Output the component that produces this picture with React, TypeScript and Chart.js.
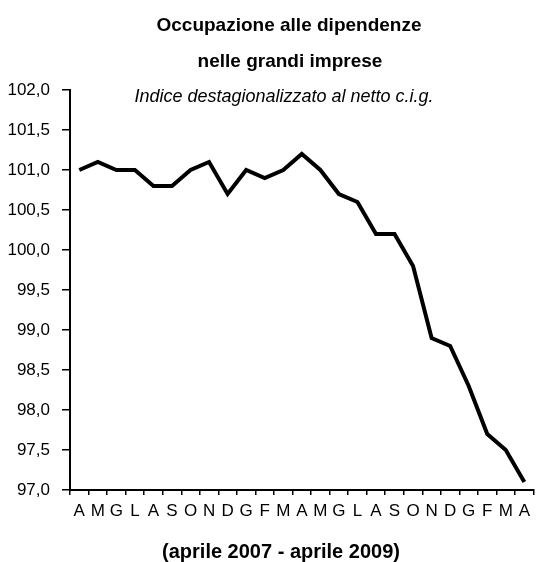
import React, { useEffect, useRef } from "react";
import { Chart, registerables } from "chart.js";

Chart.register(...registerables);

const FONT = "'Liberation Sans', Arial, sans-serif";

const categories = ["A", "M", "G", "L", "A", "S", "O", "N", "D", "G", "F", "M", "A", "M", "G", "L", "A", "S", "O", "N", "D", "G", "F", "M", "A"];
const values = [101.0, 101.1, 101.0, 101.0, 100.8, 100.8, 101.0, 101.1, 100.7, 101.0, 100.9, 101.0, 101.2, 101.0, 100.7, 100.6, 100.2, 100.2, 99.8, 98.9, 98.8, 98.3, 97.7, 97.5, 97.1];
const yMin = 97;
const yMax = 102;
const yStep = 0.5;

const titleLine1 = "Occupazione alle dipendenze";
const titleLine2 = "nelle grandi imprese";
const subtitle = "Indice destagionalizzato al netto c.i.g.";
const bottomLabel = "(aprile 2007 - aprile 2009)";

const textPlugin = {
  id: "texts",
  afterDraw(chart: any) {
    const ctx = chart.ctx;
    ctx.save();
    ctx.fillStyle = "#000";
    ctx.textAlign = "center";
    ctx.textBaseline = "middle";
    ctx.font = `bold 19px ${FONT}`;
    ctx.fillText(titleLine1, 289, 26);
    ctx.fillText(titleLine2, 290, 62);
    ctx.font = `italic 18px ${FONT}`;
    ctx.fillText(subtitle, 284, 97);
    ctx.font = `bold 20px ${FONT}`;
    ctx.fillText(bottomLabel, 281, 552);
    ctx.restore();
  },
};

export default function App() {
  const ref = useRef<HTMLCanvasElement | null>(null);

  useEffect(() => {
    if (!ref.current) return;
    const chart = new Chart(ref.current, {
      type: "line",
      data: {
        labels: categories,
        datasets: [
          {
            data: values,
            borderColor: "#000",
            borderWidth: 4,
            pointRadius: 0,
            tension: 0,
            fill: false,
          },
        ],
      },
      options: {
        responsive: false,
        animation: false,
        layout: { padding: { top: 90, left: 0, right: 0, bottom: 0 } },
        plugins: { legend: { display: false }, tooltip: { enabled: false }, title: { display: false } },
        scales: {
          x: {
            type: "category",
            offset: true,
            grid: { offset: true, drawOnChartArea: false, drawTicks: true, tickLength: 5, color: "#000", lineWidth: 1.5 },
            border: { display: true, color: "#000", width: 2 },
            ticks: { color: "#000", font: { family: FONT, size: 17 }, padding: 6, maxRotation: 0, autoSkip: false },
            afterFit: (s: any) => {
              s.height = 72;
            },
          },
          y: {
            min: yMin,
            max: yMax,
            grid: { drawOnChartArea: false, drawTicks: true, tickLength: 8, color: "#000", lineWidth: 1.5 },
            border: { display: true, color: "#000", width: 2 },
            ticks: {
              stepSize: yStep,
              color: "#000",
              font: { family: FONT, size: 17 },
              padding: 12,
              callback: (v: any) => Number(v).toFixed(1).replace(".", ","),
            },
            afterFit: (s: any) => {
              s.width = 70;
            },
          },
        },
      },
      plugins: [textPlugin],
    });
    return () => chart.destroy();
  }, []);

  return (
    <div style={{ position: "absolute", left: 0, top: 0, width: 536, height: 562, background: "#fff" }}>
      <canvas ref={ref} width={536} height={562} style={{ display: "block" }} />
    </div>
  );
}
